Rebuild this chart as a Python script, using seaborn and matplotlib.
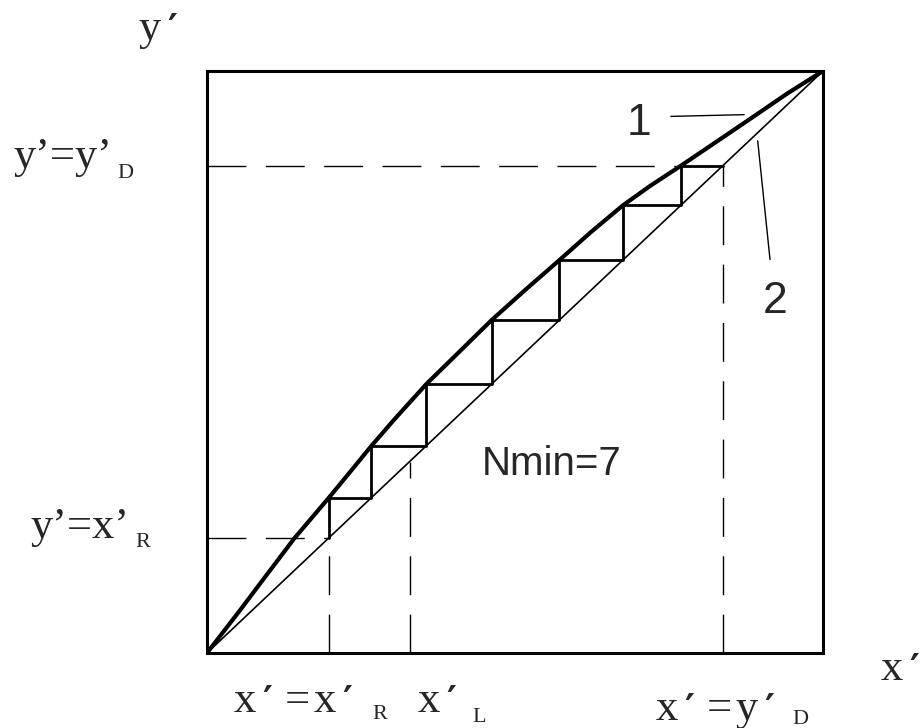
import seaborn as sns
import matplotlib.pyplot as plt

# curva de equilibrio (1)
curve_x = [0, 0.054, 0.081, 0.141, 0.198, 0.233, 0.267, 0.303, 0.356, 0.411,
           0.462, 0.520, 0.572, 0.623, 0.675, 0.720, 0.769, 0.818, 0.878, 0.943, 1.0]
curve_y = [0, 0.074, 0.112, 0.196, 0.267, 0.312, 0.356, 0.400, 0.462, 0.519,
           0.572, 0.627, 0.675, 0.723, 0.769, 0.803, 0.837, 0.872, 0.915, 0.962, 1.0]
# diagonal (2)
diag = [0, 1]
# pontos dos degraus sobre a diagonal
stage_x = [0.198, 0.267, 0.356, 0.462, 0.572, 0.675, 0.769, 0.837]
x_R = 0.198
x_L = 0.329
y_D = 0.837

sns.set_style('white')
W, H = 922, 728
fig = plt.figure(figsize=(W / 100, H / 100), dpi=100)
ax = fig.add_axes([207 / W, 1 - 653 / H, 616 / W, 582 / H])


def px(x, y):
    return x / W, 1 - y / H


# degraus
sx, sy = [stage_x[0]], [stage_x[0]]
for i in range(len(stage_x) - 1):
    sx += [stage_x[i], stage_x[i + 1]]
    sy += [stage_x[i + 1], stage_x[i + 1]]

sns.lineplot(x=diag, y=diag, ax=ax, color='black', lw=1.2, estimator=None)
sns.lineplot(x=curve_x, y=curve_y, ax=ax, color='black', lw=3, sort=False, estimator=None)
sns.lineplot(x=sx, y=sy, ax=ax, color='black', lw=2, sort=False, estimator=None)

dash = (0, (28, 14))
ax.plot([0, x_R], [x_R, x_R], color='black', lw=1, linestyle=dash)
ax.plot([x_R, x_R], [0, x_R], color='black', lw=1, linestyle=dash)
ax.plot([x_L, x_L], [0, x_L], color='black', lw=1, linestyle=dash)
ax.plot([0, y_D], [y_D, y_D], color='black', lw=1, linestyle=dash)
ax.plot([y_D, y_D], [0, y_D], color='black', lw=1, linestyle=dash)

# linhas de chamada 1 e 2
ax.plot([0.753, 0.872], [0.922, 0.925], color='black', lw=1)
ax.plot([0.894, 0.914], [0.880, 0.676], color='black', lw=1)

ax.set_xlim(0, 1)
ax.set_ylim(0, 1)
ax.set_xticks([])
ax.set_yticks([])
for s in ax.spines.values():
    s.set_visible(True)
    s.set_color('black')
    s.set_linewidth(2.2)

serif = ['Liberation Serif', 'DejaVu Serif']
mono = ['Liberation Mono', 'DejaVu Sans Mono']
sans = ['Liberation Sans', 'DejaVu Sans']


def txt(x, y, s, fam, size, ha='left', weight='normal'):
    fig.text(*px(x, y), s, family=fam, fontsize=size, ha=ha, va='baseline',
             weight=weight)


def mono_label(x, y, s, size=32):
    # letras com serifa em celulas de largura fixa (tipo Courier)
    adv = 0.6 * size * 100 / 72
    for i, c in enumerate(s):
        cx = x + (i + 0.5) * adv
        if c == '′':
            txt(cx - 4, y, c, ['DejaVu Sans'], size * 0.85, ha='center', weight='bold')
        else:
            txt(cx, y, c, serif, size, ha='center')


mono_label(136, 40, 'y′')
txt(13, 168, 'y’=y’', serif, 32)
txt(117, 178, 'D', serif, 16)
txt(30, 538, 'y’=x’', serif, 32)
txt(135, 547, 'R', serif, 16)

mono_label(231, 712, 'x′=x′')
txt(372, 719, 'R', serif, 16)
mono_label(415, 712, 'x′')
txt(472, 722, 'L', serif, 16)
mono_label(653, 720, 'x′=y′')
txt(792, 724, 'D', serif, 16)
mono_label(878, 680, 'x′')

txt(627, 135, '1', sans, 32)
txt(763, 313, '2', sans, 32)
txt(482, 475, 'Nmin=7', sans, 29)

fig.savefig('out.png', dpi=100)
